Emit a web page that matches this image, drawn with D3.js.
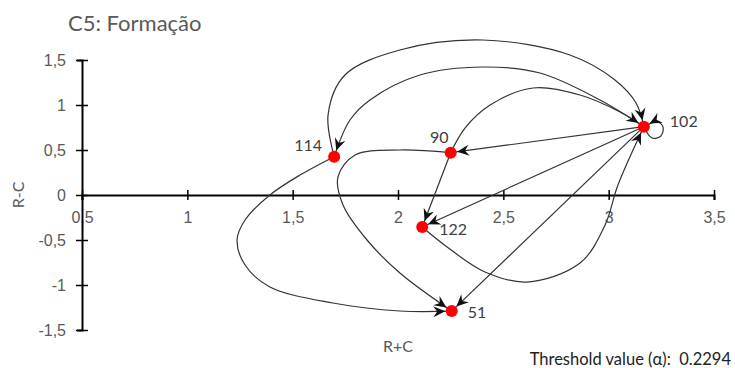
<!DOCTYPE html>
<html>
<head>
<meta charset="utf-8">
<script src="https://cdn.jsdelivr.net/npm/d3@7"></script>
<style>
  body { margin: 0; background: #fff; }
  svg { font-family: Lato, "Open Sans", sans-serif; }
  .tick text { fill: #595959; font-size: 16px; }
  .edge { fill: none; stroke: #333; stroke-width: 1.2px; }
</style>
</head>
<body>
<div id="chart"></div>
<script>
// nodes: R+C (x) and R-C (y)
var nodeIds = ["114", "90", "122", "51", "102"];
var rPlusC = [1.697, 2.25, 2.115, 2.255, 3.167];
var rMinusC = [0.426, 0.47, -0.356, -1.29, 0.759];

// relations (source -> target) and the route each arrow takes, in data units
var edgeFrom = ["114", "102", "90", "102", "102", "90", "102", "122", "114", "90", "102"];
var edgeTo   = ["102", "114", "102", "90", "122", "122", "51", "102", "51", "51", "102"];
var edgeVia = [
    [[1.668, 0.889], [1.748, 1.333], [2.009, 1.611], [2.403, 1.722], [2.816, 1.556], [3.03, 1.278], [3.13, 1.022]],
    [[2.959, 1.056], [2.674, 1.356], [2.403, 1.422], [2.104, 1.333], [1.867, 1.056], [1.772, 0.833]],
    [[2.318, 0.744], [2.437, 1.0], [2.641, 1.189], [2.864, 1.111], [3.054, 0.922]],
    [],
    [],
    [],
    [],
    [[2.233, -0.578], [2.413, -0.856], [2.612, -0.967], [2.864, -0.756], [2.983, -0.333], [3.044, 0.111]],
    [[1.535, 0.222], [1.392, 0], [1.274, -0.278], [1.236, -0.5], [1.274, -0.778], [1.392, -1.022], [1.691, -1.2], [2.009, -1.289]],
    [[2.009, 0.5], [1.796, 0.444], [1.715, 0.2], [1.739, -0.111], [1.853, -0.5], [2.009, -0.867]],
    [[3.206, 0.633], [3.248, 0.656], [3.258, 0.756], [3.229, 0.811]]
];

var xTicks = [0.5, 1, 1.5, 2, 2.5, 3, 3.5];
var yTicks = [-1.5, -1, -0.5, 0, 0.5, 1, 1.5];
var threshold = 0.2294;

// label placement per node
var labelPos = {
    "114": { dx: -12, dy: -11, anchor: "end" },
    "90":  { dx: -2,  dy: -15, anchor: "end" },
    "122": { dx: 17,  dy: 2,   anchor: "start" },
    "51":  { dx: 16,  dy: 1,   anchor: "start" },
    "102": { dx: 26,  dy: -5,  anchor: "start" }
};

var width = 735, height = 368;
var r = 6;

var svg = d3.select("#chart").append("svg")
    .attr("width", width)
    .attr("height", height);

var x = d3.scaleLinear().domain([0.5, 3.5]).range([82, 714]);
var y = d3.scaleLinear().domain([-1.5, 1.5]).range([330, 60]);

var ptFormat = d3.formatLocale({ decimal: ",", thousands: ".", grouping: [3], currency: ["", ""], minus: "-" }).format("~g");

svg.append("defs").append("marker")
    .attr("id", "arrow")
    .attr("viewBox", "-14 -7 28 14")
    .attr("markerUnits", "userSpaceOnUse")
    .attr("markerWidth", 28)
    .attr("markerHeight", 14)
    .attr("refX", r + 0.5)
    .attr("refY", 0)
    .attr("orient", "auto")
    .append("path")
    .attr("d", "M0,0 L-12,-5.5 L-8,0 L-12,5.5 Z")
    .attr("fill", "#111");

// title
svg.append("text")
    .attr("x", 68)
    .attr("y", 31)
    .attr("fill", "#595959")
    .attr("font-size", "22px")
    .text("C5: Formação");

// x axis
var xAxis = svg.append("g")
    .attr("transform", "translate(0," + y(0) + ")")
    .call(d3.axisBottom(x).tickValues(xTicks).tickFormat(ptFormat).tickSizeOuter(0).tickSize(5));
xAxis.select(".domain").attr("stroke", "#000").attr("stroke-width", 2);
xAxis.selectAll(".tick line").attr("y1", -5).attr("y2", 5).attr("stroke", "#000").attr("stroke-width", 1.5);
xAxis.selectAll(".tick text").attr("y", 17).attr("dy", "0.71em");

// y axis
var yAxis = svg.append("g")
    .attr("transform", "translate(" + x(0.5) + ",0)")
    .call(d3.axisLeft(y).tickValues(yTicks).tickFormat(ptFormat).tickSizeOuter(0).tickSize(5));
yAxis.select(".domain").attr("stroke", "#000").attr("stroke-width", 2);
yAxis.selectAll(".tick line").attr("x1", -6).attr("x2", 6).attr("stroke", "#000").attr("stroke-width", 1.5);
yAxis.selectAll(".tick text").attr("x", -16);

// axis titles
svg.append("text")
    .attr("transform", "translate(24," + y(0) + ") rotate(-90)")
    .attr("text-anchor", "middle")
    .attr("fill", "#595959")
    .attr("font-size", "16px")
    .text("R-C");

svg.append("text")
    .attr("x", x(2))
    .attr("y", 352)
    .attr("text-anchor", "middle")
    .attr("fill", "#595959")
    .attr("font-size", "16px")
    .text("R+C");

svg.append("text")
    .attr("x", 731)
    .attr("y", 365)
    .attr("text-anchor", "end")
    .attr("fill", "#222")
    .attr("font-size", "16.5px")
    .attr("xml:space", "preserve")
    .text("Threshold value (α):  " + threshold);

// edges
var nodeIndex = {};
nodeIds.forEach(function(id, i) { nodeIndex[id] = i; });

var line = d3.line()
    .x(function(d) { return x(d[0]); })
    .y(function(d) { return y(d[1]); })
    .curve(d3.curveCatmullRom.alpha(0.5));

var edges = edgeFrom.map(function(s, i) {
    var a = nodeIndex[s], b = nodeIndex[edgeTo[i]];
    return [[rPlusC[a], rMinusC[a]]].concat(edgeVia[i], [[rPlusC[b], rMinusC[b]]]);
});

svg.append("g")
    .selectAll("path")
    .data(edges)
    .enter().append("path")
    .attr("class", "edge")
    .attr("d", line)
    .attr("marker-end", "url(#arrow)");

// nodes
svg.append("g")
    .selectAll("circle")
    .data(nodeIds)
    .enter().append("circle")
    .attr("cx", function(d, i) { return x(rPlusC[i]); })
    .attr("cy", function(d, i) { return y(rMinusC[i]); })
    .attr("r", r)
    .attr("fill", "#ff0000");

svg.append("g")
    .selectAll("text")
    .data(nodeIds)
    .enter().append("text")
    .attr("x", function(d, i) { return x(rPlusC[i]) + labelPos[d].dx; })
    .attr("y", function(d, i) { return y(rMinusC[i]) + labelPos[d].dy; })
    .attr("dy", "0.35em")
    .attr("text-anchor", function(d) { return labelPos[d].anchor; })
    .attr("fill", "#404040")
    .attr("font-size", "16px")
    .text(function(d) { return d; });
</script>
</body>
</html>
